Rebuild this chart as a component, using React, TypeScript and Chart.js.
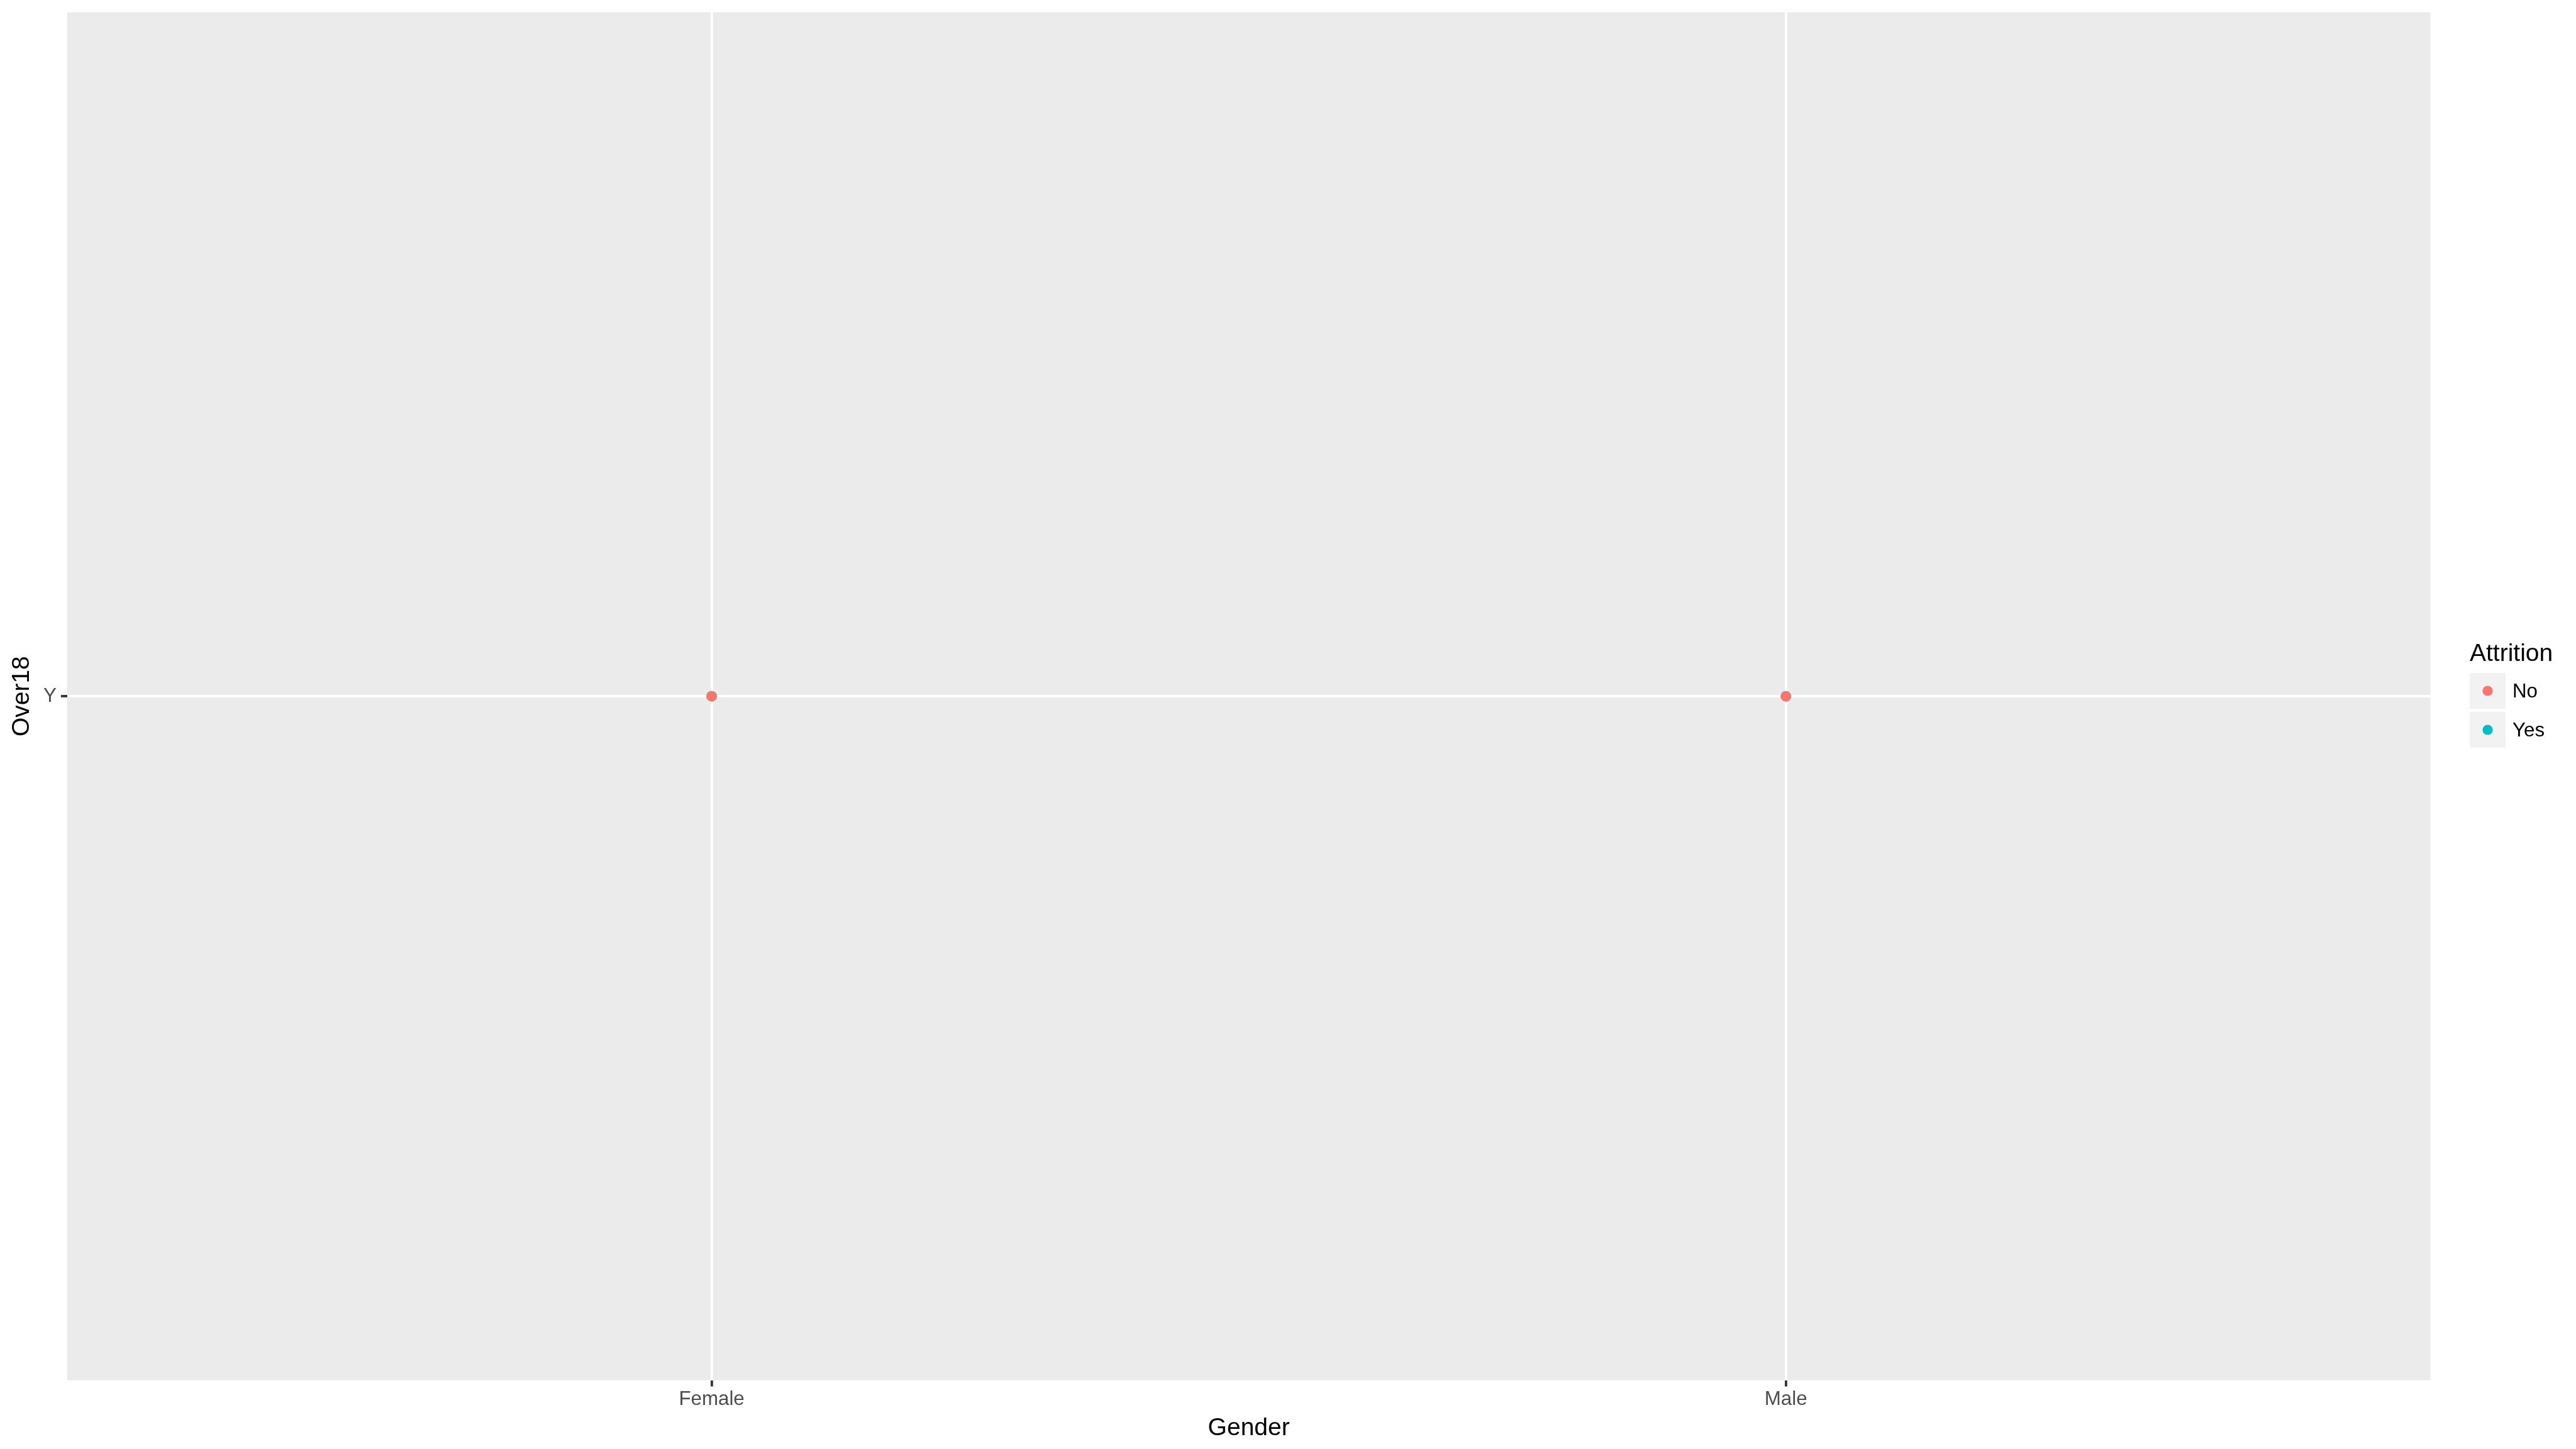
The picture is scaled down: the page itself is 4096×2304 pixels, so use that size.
import React, { useEffect, useRef } from "react";
import { Chart, registerables } from "chart.js";

Chart.register(...registerables);

// ---- data ----
const genderLevels = ["Female", "Male"];
const over18Levels = ["Y"];
const attritionLevels = ["No", "Yes"];
const attritionColors = ["#F8766D", "#00BFC4"];
const noGender = ["Female", "Male"];
const noOver18 = ["Y", "Y"];
const yesGender = ["Female", "Male"];
const yesOver18 = ["Y", "Y"];

const xTitle = "Gender";
const yTitle = "Over18";
const legendTitle = "Attrition";

const FONT = "'Liberation Sans', Arial, Helvetica, sans-serif";
const W = 4096;
const H = 2304;

function toPoints(g: string[], o: string[]) {
  return g.map((gv, i) => ({ x: genderLevels.indexOf(gv) + 1, y: over18Levels.indexOf(o[i]) + 1 }));
}

const panelBg = {
  id: "panelBg",
  beforeDraw(chart: any) {
    const { ctx, chartArea } = chart;
    ctx.save();
    ctx.fillStyle = "#EBEBEB";
    ctx.fillRect(chartArea.left, chartArea.top, chartArea.right - chartArea.left, chartArea.bottom - chartArea.top);
    ctx.restore();
  },
};

const ggLegend = {
  id: "ggLegend",
  afterDraw(chart: any) {
    const { ctx, chartArea } = chart;
    const left = chartArea.right + 62.4;
    ctx.save();
    ctx.fillStyle = "#000000";
    ctx.font = `39px ${FONT}`;
    ctx.textAlign = "left";
    ctx.textBaseline = "middle";
    ctx.fillText(legendTitle, left, 1040);
    const key = 57;
    const keyTops = [1070, 1132];
    attritionLevels.forEach((lab, i) => {
      const top = keyTops[i];
      ctx.fillStyle = "#F2F2F2";
      ctx.fillRect(left, top, key, key);
      ctx.beginPath();
      ctx.fillStyle = attritionColors[i];
      ctx.arc(left + key / 2, top + key / 2, 8.1, 0, Math.PI * 2);
      ctx.fill();
      ctx.fillStyle = "#000000";
      ctx.font = `31.3px ${FONT}`;
      ctx.textBaseline = "middle";
      ctx.fillText(lab, left + 68, top + key / 2 + 1.5);
    });
    ctx.restore();
  },
};

export default function App() {
  const ref = useRef<HTMLCanvasElement | null>(null);
  useEffect(() => {
    if (!ref.current) return;
    const chart = new Chart(ref.current, {
      type: "scatter",
      data: {
        datasets: [
          {
            label: attritionLevels[0],
            data: toPoints(noGender, noOver18),
            backgroundColor: attritionColors[0],
            borderWidth: 0,
            pointRadius: 8.4,
          },
          {
            label: attritionLevels[1],
            data: toPoints(yesGender, yesOver18),
            backgroundColor: attritionColors[1],
            borderWidth: 0,
            pointRadius: 8.4,
          },
        ],
      },
      options: {
        responsive: false,
        animation: false,
        events: [],
        devicePixelRatio: 1,
        layout: { padding: { left: 0, top: 19.6, right: 231.4, bottom: 0 } },
        plugins: { legend: { display: false }, tooltip: { enabled: false } },
        scales: {
          x: {
            type: "linear",
            min: 0.4,
            max: genderLevels.length + 0.6,
            afterBuildTicks: (s: any) => {
              s.ticks = genderLevels.map((_, i) => ({ value: i + 1 }));
            },
            afterFit: (s: any) => {
              s.height = 109.3;
              s.paddingLeft = 0;
              s.paddingRight = 0;
            },
            ticks: {
              autoSkip: false,
              maxRotation: 0,
              padding: 2.5,
              color: "#4D4D4D",
              font: { family: FONT, size: 31.3 },
              callback: (v: any) => genderLevels[Math.round(Number(v)) - 1] ?? "",
            },
            grid: {
              color: "#FFFFFF",
              lineWidth: 3.8,
              tickColor: "#333333",
              tickWidth: 3.8,
              tickLength: 9.8,
              drawTicks: true,
            },
            border: { display: false },
            title: {
              display: true,
              text: xTitle,
              color: "#000000",
              font: { family: FONT, size: 39, lineHeight: 1.2 },
              padding: { top: 0, bottom: 9.5 },
            },
          },
          y: {
            type: "linear",
            min: 0.4,
            max: over18Levels.length + 0.6,
            afterBuildTicks: (s: any) => {
              s.ticks = over18Levels.map((_, i) => ({ value: i + 1 }));
            },
            afterFit: (s: any) => {
              s.width = 106.7;
              s.paddingTop = 0;
              s.paddingBottom = 0;
            },
            ticks: {
              autoSkip: false,
              padding: 7,
              color: "#4D4D4D",
              font: { family: FONT, size: 31.3 },
              callback: (v: any) => over18Levels[Math.round(Number(v)) - 1] ?? "",
            },
            grid: {
              color: "#FFFFFF",
              lineWidth: 3.8,
              tickColor: "#333333",
              tickWidth: 3.8,
              tickLength: 9.8,
              drawTicks: true,
            },
            border: { display: false },
            title: {
              display: true,
              text: yTitle,
              color: "#000000",
              font: { family: FONT, size: 39, lineHeight: 1.2 },
              padding: { top: 11.5, bottom: 0 },
            },
          },
        },
      },
      plugins: [panelBg, ggLegend],
    } as any);
    return () => chart.destroy();
  }, []);
  return (
    <div style={{ position: "fixed", left: 0, top: 0, width: W, height: H, background: "#FFFFFF" }}>
      <canvas ref={ref} width={W} height={H} style={{ width: W, height: H, display: "block" }} />
    </div>
  );
}
